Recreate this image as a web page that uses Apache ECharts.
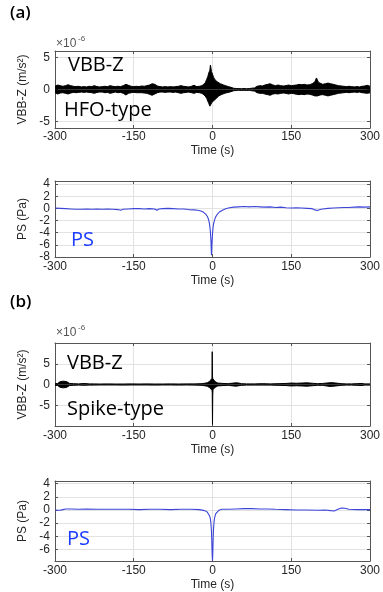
<!DOCTYPE html>
<html><head><meta charset="utf-8">
<script src="https://cdn.jsdelivr.net/npm/echarts@6/dist/echarts.min.js"></script>
<style>html,body{margin:0;padding:0;background:#fff}#c{width:383px;height:592px}</style>
</head><body><div id="c"></div>
<script>
// ---------- DATA ----------
const xTicks = [-300, -150, 0, 150, 300];
const yTicksVBB = [-5, 0, 5];
const yTicksPSa = [-8, -6, -4, -2, 0, 2, 4];
const yTicksPSb = [-6, -4, -2, 0, 2, 4];

// (a) VBB-Z envelope (x1e-6 m/s^2)
const tVBBa = [
 -300,-295,-290,-285,-280,-275,-270,-265,-260,-255,
 -250,-245,-240,-235,-230,-225,-220,-215,-210,-205,
 -200,-195,-190,-185,-180,-175,-170,-165,-160,-155,
 -150,-145,-140,-135,-130,-125,-120,-115,-110,-105,
 -100,-95,-90,-85,-80,-75,-70,-65,-60,-55,
 -50,-45,-40,-35,-30,-25,-20,-17,-14,-11,
 -9,-7,-5,-4,-3,-2,-1,0,1,2,
 3,5,7,9,12,15,18,21,25,30,
 35,40,45,50,55,60,65,70,75,80,
 85,90,95,100,105,110,115,120,125,130,
 135,140,145,150,155,160,165,170,175,180,
 185,190,195,198,200,202,205,210,215,220,
 225,230,235,240,245,250,255,260,265,270,
 275,280,285,290,295,300];
const upVBBa = [
 0.5,0.7,0.6,0.5,0.6,0.75,0.6,0.5,0.45,0.5,
 0.4,0.45,0.4,0.5,0.45,0.6,0.45,0.4,0.45,0.5,
 0.45,0.6,0.5,0.45,0.5,0.45,0.6,0.8,0.65,0.5,
 0.45,0.5,0.45,0.55,0.5,0.6,0.7,0.9,0.8,0.55,
 0.45,0.4,0.45,0.4,0.45,0.4,0.45,0.5,0.6,0.5,
 0.45,0.4,0.5,0.65,0.45,0.5,0.6,0.8,1.0,1.6,
 2.0,2.6,3.0,3.8,3.4,2.8,3.0,2.4,2.2,1.9,
 1.6,1.5,1.3,1.2,1.0,0.9,0.8,0.7,0.6,0.45,
 0.35,0.2,0.15,0.15,0.12,0.15,0.12,0.15,0.2,0.25,
 0.5,0.6,0.55,0.7,0.8,0.9,0.7,0.6,0.7,0.6,
 0.55,0.6,0.7,0.6,0.65,0.7,0.8,0.75,0.8,0.7,
 0.75,0.9,1.2,1.8,1.5,1.1,0.9,0.8,0.9,1.0,
 0.9,0.8,0.7,0.6,0.55,0.5,0.45,0.5,0.45,0.4,
 0.45,0.4,0.5,0.55,0.65,0.5];
const loVBBa = [
 -0.5,-0.7,-0.55,-0.5,-0.6,-0.7,-0.55,-0.45,-0.5,-0.45,
 -0.4,-0.45,-0.4,-0.45,-0.5,-0.6,-0.45,-0.4,-0.4,-0.5,
 -0.45,-0.6,-0.5,-0.4,-0.5,-0.45,-0.6,-0.85,-0.6,-0.5,
 -0.45,-0.5,-0.5,-0.5,-0.55,-0.6,-0.75,-0.9,-0.7,-0.5,
 -0.4,-0.4,-0.45,-0.4,-0.4,-0.45,-0.4,-0.5,-0.6,-0.5,
 -0.45,-0.4,-0.5,-0.6,-0.45,-0.5,-0.6,-0.8,-1.0,-1.4,
 -1.6,-2.2,-2.6,-2.3,-2.6,-2.4,-2.0,-2.1,-1.8,-1.9,
 -1.7,-1.5,-1.4,-1.2,-1.0,-0.9,-0.75,-0.7,-0.55,-0.45,
 -0.35,-0.2,-0.15,-0.12,-0.15,-0.12,-0.15,-0.12,-0.2,-0.25,
 -0.5,-0.6,-0.6,-0.7,-0.8,-0.9,-0.7,-0.65,-0.7,-0.6,
 -0.55,-0.6,-0.7,-0.6,-0.65,-0.75,-0.8,-0.75,-0.8,-0.7,
 -0.75,-0.85,-1.0,-1.1,-1.0,-0.9,-0.85,-0.8,-0.9,-1.0,
 -0.9,-0.8,-0.7,-0.6,-0.55,-0.5,-0.45,-0.5,-0.45,-0.4,
 -0.45,-0.4,-0.5,-0.55,-0.6,-0.5];

// (a) PS (Pa)
const tPSa = [
 -300,-290,-280,-270,-260,-250,-240,-230,-220,-210,
 -200,-190,-180,-175,-170,-160,-150,-140,-130,-120,
 -110,-106,-102,-95,-85,-75,-65,-55,-45,-35,
 -28,-22,-17,-13,-10,-8,-6,-5,-4,-3,
 -2.5,-2,-1.5,-1,0,1,2,4,6,9,
 13,18,24,30,40,50,60,70,80,90,
 100,110,120,130,140,150,160,170,180,190,
 195,200,205,210,220,230,240,250,260,270,
 280,290,300];
const vPSa = [
 0.05,0.0,-0.05,-0.1,-0.15,-0.15,-0.1,-0.15,-0.1,-0.15,
 -0.1,-0.15,-0.2,-0.3,-0.15,-0.1,-0.05,-0.05,-0.1,-0.05,
 -0.1,-0.3,-0.1,-0.05,0.0,-0.05,-0.1,-0.1,-0.2,-0.25,
 -0.3,-0.45,-0.65,-0.95,-1.3,-1.7,-2.4,-3.0,-3.9,-5.2,
 -6.4,-7.7,-7.0,-5.8,-4.2,-3.2,-2.6,-1.9,-1.4,-1.0,
 -0.6,-0.35,-0.1,0.05,0.2,0.25,0.3,0.25,0.3,0.25,
 0.2,0.25,0.15,0.2,0.1,0.05,0.1,0.05,0.0,-0.05,
 -0.25,-0.35,-0.2,-0.1,0.0,0.05,0.1,0.15,0.15,0.2,
 0.25,0.2,0.25];

// (b) VBB-Z envelope (x1e-6 m/s^2)
const tVBBb = [
 -300,-295,-292,-290,-287,-284,-281,-278,-275,-272,
 -265,-255,-245,-235,-225,-215,-200,-185,-170,-155,
 -140,-125,-110,-95,-80,-65,-50,-35,-20,-10,
 -5,-3,-1,-0.5,0,0.5,1,3,5,10,
 20,30,40,45,50,55,65,80,95,110,
 125,140,150,160,170,180,190,200,210,222,
 228,235,245,255,265,275,285,290,300];
const upVBBb = [
 0.2,0.25,0.4,0.7,0.8,0.8,0.75,0.7,0.5,0.25,
 0.2,0.15,0.25,0.15,0.15,0.12,0.15,0.12,0.12,0.15,
 0.12,0.15,0.12,0.12,0.15,0.12,0.15,0.15,0.2,0.4,
 0.8,1.1,1.5,7.9,2.0,1.4,1.2,1.0,0.7,0.35,
 0.25,0.2,0.35,0.4,0.35,0.2,0.15,0.15,0.2,0.15,
 0.2,0.25,0.35,0.3,0.35,0.4,0.3,0.2,0.25,0.4,
 0.45,0.35,0.2,0.15,0.15,0.2,0.25,0.15,0.15];
const loVBBb = [
 -0.2,-0.25,-0.4,-0.7,-0.8,-0.8,-0.75,-0.7,-0.5,-0.25,
 -0.2,-0.15,-0.2,-0.15,-0.15,-0.12,-0.12,-0.12,-0.15,-0.12,
 -0.12,-0.12,-0.15,-0.12,-0.12,-0.15,-0.12,-0.15,-0.2,-0.4,
 -0.8,-1.1,-1.4,-2.0,-9.6,-2.5,-1.2,-1.0,-0.7,-0.35,
 -0.25,-0.2,-0.35,-0.4,-0.3,-0.2,-0.15,-0.15,-0.15,-0.15,
 -0.2,-0.25,-0.35,-0.3,-0.35,-0.4,-0.3,-0.2,-0.2,-0.45,
 -0.45,-0.35,-0.2,-0.15,-0.15,-0.2,-0.25,-0.15,-0.15];

// (b) PS (Pa)
const tPSb = [
 -300,-295,-290,-285,-280,-270,-255,-240,-220,-200,
 -180,-160,-140,-120,-100,-80,-60,-40,-25,-15,
 -10,-7,-5,-4,-3,-2,-1.5,-1,-0.5,0,
 0.5,1,1.5,2,3,4,6,8,12,18,
 30,45,60,75,90,105,120,140,160,180,
 200,215,225,232,240,246,252,260,275,290,
 300];
const vPSb = [
 0.0,-0.05,-0.05,0.05,0.15,0.15,0.1,0.15,0.1,0.1,
 0.1,0.1,0.05,0.1,0.1,0.05,0.1,0.1,0.05,-0.1,
 -0.3,-0.6,-1.0,-1.4,-2.0,-3.2,-4.3,-5.8,-7.0,-7.75,
 -6.8,-5.2,-3.8,-2.8,-1.8,-1.2,-0.6,-0.3,-0.05,0.1,
 0.1,0.15,0.2,0.2,0.15,0.15,0.1,0.05,0.0,0.0,
 -0.05,0.0,-0.1,-0.15,0.15,0.3,0.25,0.1,0.05,0.05,
 0.05];

// ---------- CHART ----------
const zip = (t, v) => t.map((x, i) => [x, v[i]]);
const AX = '#555555', TXT = '#262626', GRIDC = '#e2e2e2', FONT = 'Liberation Sans';
const grids = [
  {left: 55, width: 315, top: 51, height: 77},
  {left: 55, width: 315, top: 181, height: 76},
  {left: 55, width: 317, top: 343, height: 83},
  {left: 55, width: 317, top: 481, height: 81}
];
const yConf = [
  {min: -6, max: 6, ticks: yTicksVBB, name: 'VBB-Z (m/s²)'},
  {min: -8, max: 4.5, ticks: yTicksPSa, name: 'PS (Pa)'},
  {min: -10, max: 10, ticks: yTicksVBB, name: 'VBB-Z (m/s²)'},
  {min: -7.75, max: 4.4, ticks: yTicksPSb, name: 'PS (Pa)'}
];
const xGaps = [[3, 17], [4, 18], [4, 18], [4, 18]];
const xAxis = [], yAxis = [];
grids.forEach((g, i) => {
  xAxis.push({
    type: 'value', gridIndex: i, min: -300, max: 300, position: 'bottom',
    axisLine: {show: true, onZero: false, lineStyle: {color: AX, width: 1}},
    axisTick: {show: true, inside: true, length: 3, customValues: xTicks, lineStyle: {color: AX}},
    axisLabel: {show: true, customValues: xTicks, fontSize: 12, color: TXT, fontFamily: FONT, margin: xGaps[i][0]},
    splitLine: {show: true, lineStyle: {color: GRIDC, width: 1}},
    name: 'Time (s)', nameLocation: 'middle', nameGap: xGaps[i][1],
    nameTextStyle: {fontSize: 12, color: TXT, fontFamily: FONT}
  });
  xAxis.push({
    type: 'value', gridIndex: i, min: -300, max: 300, position: 'top',
    axisLine: {show: true, onZero: false, lineStyle: {color: AX, width: 1}},
    axisTick: {show: true, inside: true, length: 3, customValues: xTicks, lineStyle: {color: AX}},
    axisLabel: {show: false}, splitLine: {show: false}
  });
  const y = yConf[i];
  yAxis.push({
    type: 'value', gridIndex: i, min: y.min, max: y.max, position: 'left',
    axisLine: {show: true, onZero: false, lineStyle: {color: AX, width: 1}},
    axisTick: {show: true, inside: true, length: 3, customValues: y.ticks, lineStyle: {color: AX}},
    axisLabel: {show: true, customValues: y.ticks, fontSize: 12, color: TXT, fontFamily: FONT, margin: 5},
    splitLine: {show: true, lineStyle: {color: GRIDC, width: 1}},
    name: y.name, nameLocation: 'middle', nameGap: 22, nameRotate: 90,
    nameTextStyle: {fontSize: 12, color: TXT, fontFamily: FONT}
  });
  yAxis.push({
    type: 'value', gridIndex: i, min: y.min, max: y.max, position: 'right',
    axisLine: {show: true, onZero: false, lineStyle: {color: AX, width: 1}},
    axisTick: {show: true, inside: true, length: 3, customValues: y.ticks, lineStyle: {color: AX}},
    axisLabel: {show: false}, splitLine: {show: false}
  });
});

const band = (gi, data) => ({
  type: 'line', xAxisIndex: gi * 2, yAxisIndex: gi * 2, data: data,
  showSymbol: false, symbol: 'none', smooth: false, z: 3,
  lineStyle: {color: '#000', width: 1}, itemStyle: {color: '#000'},
  areaStyle: {color: '#000', opacity: 1}
});
const psLine = (gi, data) => ({
  type: 'line', xAxisIndex: gi * 2, yAxisIndex: gi * 2, data: data,
  showSymbol: false, symbol: 'none', z: 3,
  lineStyle: {color: '#3b45d8', width: 1.1}, itemStyle: {color: '#3b45d8'}
});

const big = (txt, x, y, color) => ({
  type: 'text', left: x, top: y, z: 10,
  style: {text: txt, fontSize: 20, fontFamily: 'Open Sans', fill: color || '#000', textVerticalAlign: 'middle'}
});
const small = (txt, x, y, fs) => ({
  type: 'text', left: x, top: y, z: 10,
  style: {text: txt, fontSize: fs, fontFamily: FONT, fill: '#555'}
});

const chart = echarts.init(document.getElementById('c'), null, {renderer: 'canvas'});
chart.setOption({
  animation: false,
  backgroundColor: '#fff',
  grid: grids,
  xAxis: xAxis,
  yAxis: yAxis,
  series: [
    band(0, zip(tVBBa, upVBBa)), band(0, zip(tVBBa, loVBBa)),
    psLine(1, zip(tPSa, vPSa)),
    band(2, zip(tVBBb, upVBBb)), band(2, zip(tVBBb, loVBBb)),
    psLine(3, zip(tPSb, vPSb))
  ],
  graphic: [
    {type: 'text', left: 10, top: 5, style: {text: '(a)', fontSize: 17, fontWeight: 600, fontFamily: 'Open Sans', fill: '#000'}},
    {type: 'text', left: 10, top: 294, style: {text: '(b)', fontSize: 17, fontWeight: 600, fontFamily: 'Open Sans', fill: '#000'}},
    small('×10', 56, 38, 12), small('-6', 78, 35, 8),
    small('×10', 56, 327, 12), small('-6', 78, 324, 8),
    big('VBB-Z', 68, 55), big('HFO-type', 64, 100),
    big('PS', 71, 230, '#1a3cff'),
    big('VBB-Z', 67, 353), big('Spike-type', 67, 399),
    big('PS', 67, 529, '#1a3cff')
  ]
});
</script></body></html>
